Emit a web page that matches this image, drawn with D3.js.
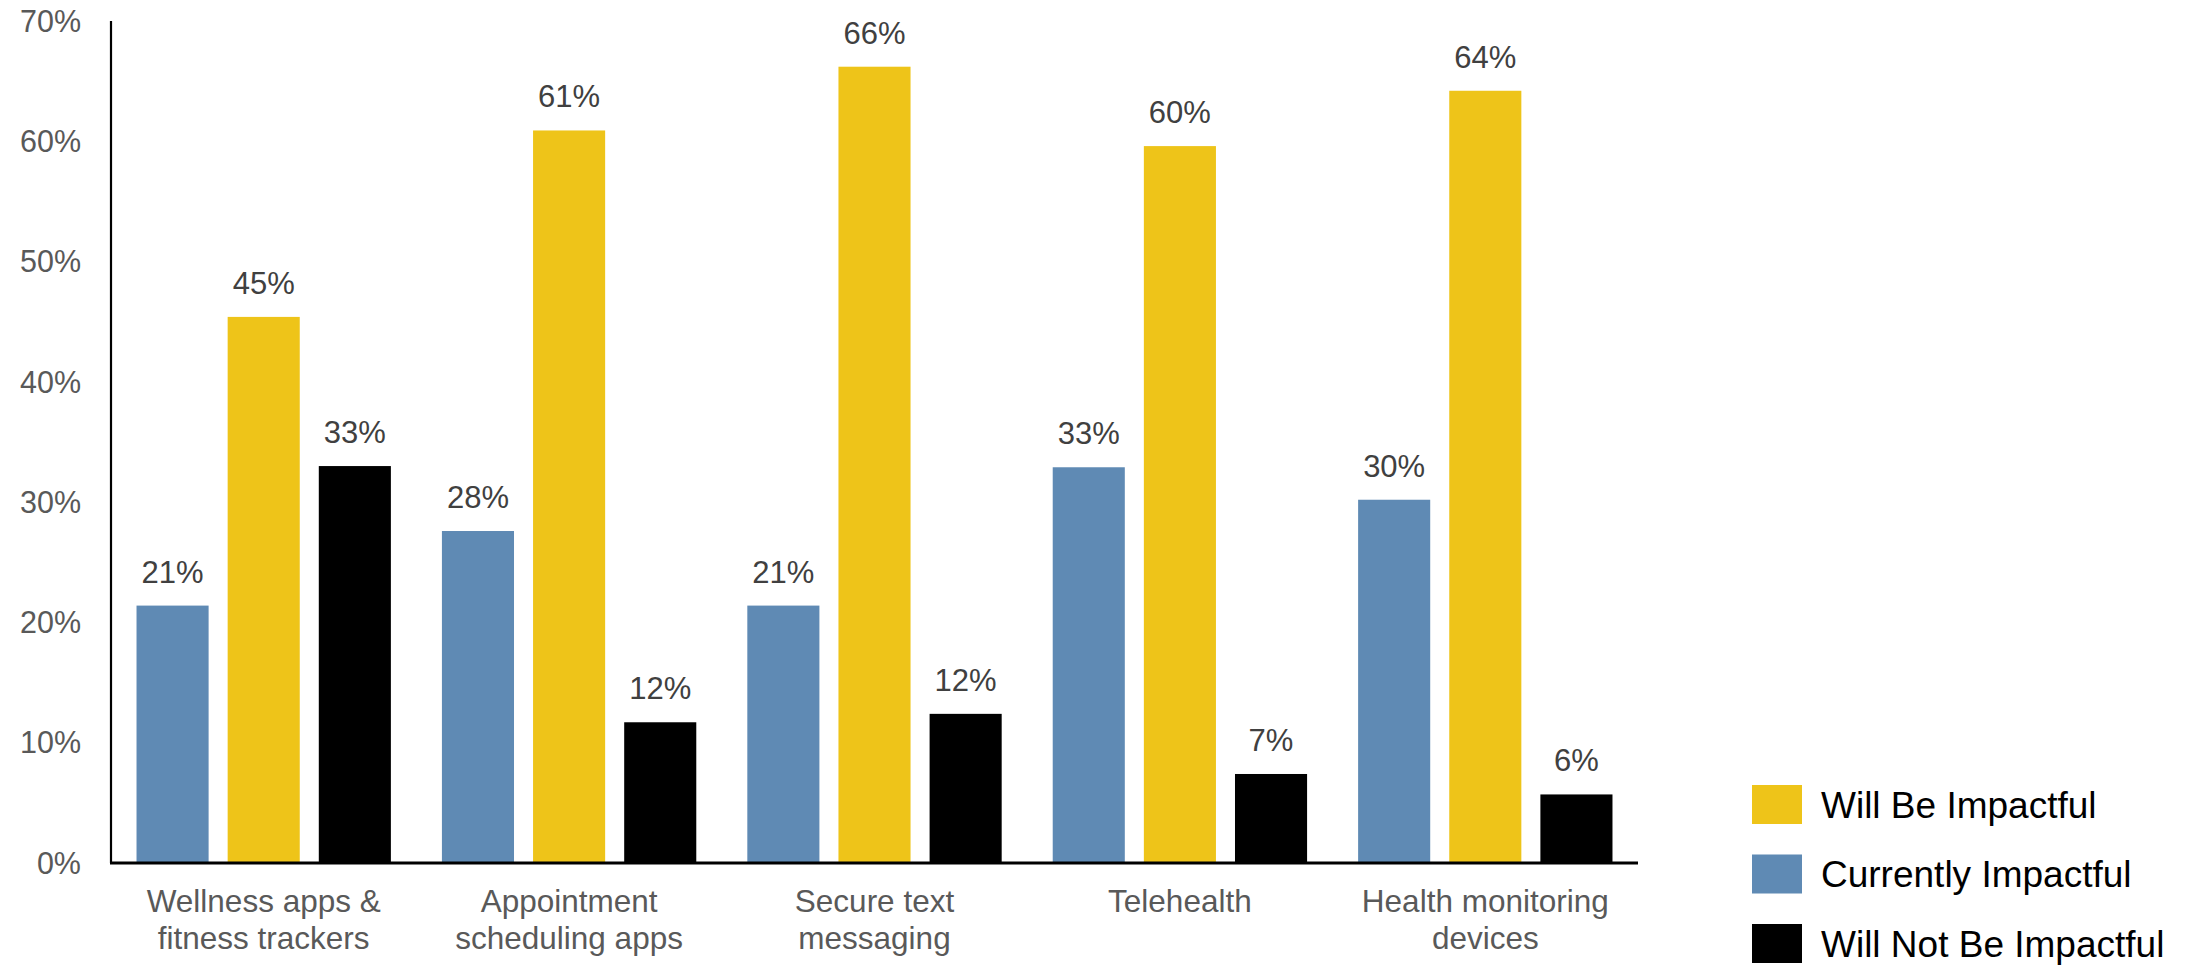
<!DOCTYPE html>
<html>
<head>
<meta charset="utf-8">
<script src="https://cdn.jsdelivr.net/npm/d3@7"></script>
<style>
  html, body { margin: 0; padding: 0; background: #fff; }
  svg { display: block; font-family: "Liberation Sans", Arial, sans-serif; }
</style>
</head>
<body>
<svg id="chart" width="2190" height="972"></svg>
<script>
// Survey: perceived impact of digital health tools
const categories = [
  ["Wellness apps &", "fitness trackers"],
  ["Appointment", "scheduling apps"],
  ["Secure text", "messaging"],
  ["Telehealth"],
  ["Health monitoring", "devices"]
];
const seriesNames = ["Currently Impactful", "Will Be Impactful", "Will Not Be Impactful"];
const currentlyImpactful = [21.4, 27.6, 21.4, 32.9, 30.2];
const willBeImpactful    = [45.4, 60.9, 66.2, 59.6, 64.2];
const willNotBeImpactful = [33.0, 11.7, 12.4, 7.4, 5.7];
const yTicks = [0, 10, 20, 30, 40, 50, 60, 70];
const legendOrder = ["Will Be Impactful", "Currently Impactful", "Will Not Be Impactful"];

const seriesValues = [currentlyImpactful, willBeImpactful, willNotBeImpactful];
const colors = {
  "Currently Impactful": "#5f8ab4",
  "Will Be Impactful": "#eec419",
  "Will Not Be Impactful": "#000000"
};

const svg = d3.select("#chart");
const plotLeft = 111, plotRight = 1638, plotTop = 21, plotBottom = 863;

const x0 = d3.scaleBand().domain(d3.range(categories.length)).range([plotLeft, plotRight]).padding(0);
const x1 = d3.scaleBand().domain(seriesNames).range([0, x0.bandwidth()])
  .paddingInner(0.209).paddingOuter(0.28);
const y = d3.scaleLinear().domain([0, 70]).range([plotBottom, plotTop]);

// Y tick labels (no tick marks)
svg.append("g")
  .selectAll("text")
  .data(yTicks)
  .join("text")
  .attr("x", 81)
  .attr("y", d => y(d))
  .attr("dy", "0.35em")
  .attr("text-anchor", "end")
  .attr("font-size", 30.5)
  .attr("fill", "#595959")
  .text(d => d + "%");

// Bars and value labels
const groups = svg.append("g")
  .selectAll("g")
  .data(categories.map((c, i) => i))
  .join("g")
  .attr("transform", i => `translate(${x0(i)},0)`);

const cells = groups.selectAll("g")
  .data(i => seriesNames.map((s, k) => ({ series: s, value: seriesValues[k][i] })))
  .join("g");

cells.append("rect")
  .attr("x", d => x1(d.series))
  .attr("width", x1.bandwidth())
  .attr("y", d => y(d.value))
  .attr("height", d => y(0) - y(d.value))
  .attr("fill", d => colors[d.series]);

cells.append("text")
  .attr("x", d => x1(d.series) + x1.bandwidth() / 2)
  .attr("y", d => y(d.value) - 23)
  .attr("text-anchor", "middle")
  .attr("font-size", 31)
  .attr("fill", "#404040")
  .text(d => Math.round(d.value) + "%");

// Axis lines
svg.append("line")
  .attr("x1", plotLeft).attr("x2", plotLeft)
  .attr("y1", plotTop).attr("y2", plotBottom)
  .attr("stroke", "#000").attr("stroke-width", 2.2);
svg.append("line")
  .attr("x1", plotLeft - 1).attr("x2", plotRight)
  .attr("y1", plotBottom).attr("y2", plotBottom)
  .attr("stroke", "#000").attr("stroke-width", 2.8);

// Category labels
svg.append("g")
  .selectAll("text")
  .data(categories)
  .join("text")
  .attr("x", (d, i) => x0(i) + x0.bandwidth() / 2)
  .attr("y", 912)
  .attr("text-anchor", "middle")
  .attr("font-size", 31.5)
  .attr("fill", "#595959")
  .selectAll("tspan")
  .data(d => d)
  .join("tspan")
  .attr("x", function () { return d3.select(this.parentNode).attr("x"); })
  .attr("dy", (d, j) => j === 0 ? 0 : 37)
  .text(d => d);

// Legend
const legend = svg.append("g")
  .selectAll("g")
  .data(legendOrder)
  .join("g")
  .attr("transform", (d, i) => `translate(1752,${785 + i * 69.5})`);

legend.append("rect")
  .attr("width", 50)
  .attr("height", 39)
  .attr("fill", d => colors[d]);

legend.append("text")
  .attr("x", 69)
  .attr("y", 19.5)
  .attr("dy", "0.36em")
  .attr("font-size", 37)
  .attr("fill", "#000")
  .text(d => d);
</script>
</body>
</html>
